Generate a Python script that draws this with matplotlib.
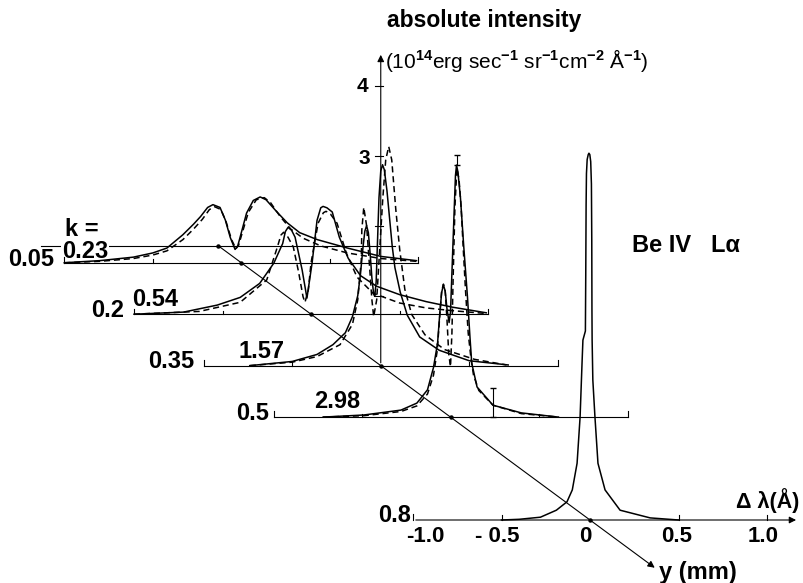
import numpy as np
import matplotlib.pyplot as plt
import matplotlib.transforms as mtransforms

plt.rcParams['font.family'] = ['Liberation Sans', 'DejaVu Sans']
plt.rcParams['mathtext.fontset'] = 'custom'
plt.rcParams['mathtext.rm'] = 'Liberation Sans:bold'
plt.rcParams['mathtext.bf'] = 'Liberation Sans:bold'
plt.rcParams['mathtext.default'] = 'rm'

# ---- data (delta lambda in A, intensity in 1e14 erg/s/sr/cm2/A) ----
y_rows = [0.05, 0.2, 0.35, 0.5, 0.8]          # mm
y_labels = ['0.05', '0.2', '0.35', '0.5', '0.8']
k_labels = ['0.23', '0.54', '1.57', '2.98']

dl_005 = [-1.0, -0.8, -0.61, -0.5, -0.42, -0.33, -0.27, -0.23, -0.19, -0.16, -0.12, -0.09,
          -0.062, -0.035, -0.02, -0.006, 0.03, 0.068, 0.107, 0.14, 0.2, 0.26, 0.33, 0.43,
          0.6, 0.79, 0.99]
I_005 = [0.0, 0.03, 0.08, 0.14, 0.21, 0.40, 0.55, 0.66, 0.79, 0.83, 0.79, 0.61,
         0.36, 0.19, 0.24, 0.37, 0.71, 0.89, 0.94, 0.90, 0.73, 0.57, 0.43, 0.33,
         0.21, 0.09, 0.03]
dl_005_th = [-1.0, -0.8, -0.61, -0.5, -0.42, -0.33, -0.27, -0.22, -0.18, -0.15, -0.115, -0.085,
             -0.055, -0.03, -0.015, 0.0, 0.04, 0.085, 0.13, 0.165, 0.22, 0.28, 0.35, 0.45,
             0.6, 0.79, 0.99]
I_005_th = [0.0, 0.02, 0.06, 0.11, 0.17, 0.33, 0.48, 0.62, 0.76, 0.80, 0.76, 0.58,
            0.33, 0.20, 0.25, 0.38, 0.72, 0.90, 0.93, 0.86, 0.66, 0.48, 0.35, 0.24,
            0.14, 0.06, 0.02]

dl_02 = [-1.0, -0.72, -0.53, -0.40, -0.29, -0.21, -0.16, -0.145, -0.13, -0.11, -0.09, -0.05,
         -0.023, 0.006, 0.034, 0.055, 0.068, 0.09, 0.12, 0.16, 0.21, 0.28, 0.37, 0.5,
         0.65, 0.8, 0.99]
I_02 = [0.0, 0.03, 0.13, 0.24, 0.44, 0.73, 1.01, 1.18, 1.24, 1.20, 1.10, 0.63,
        0.23, 0.73, 1.34, 1.52, 1.54, 1.52, 1.46, 1.10, 0.80, 0.55, 0.40, 0.28,
        0.18, 0.10, 0.02]
dl_02_th = [-1.0, -0.63, -0.4, -0.25, -0.19, -0.17, -0.155, -0.13, -0.1, -0.07, -0.045, -0.034,
            -0.015, 0.0, 0.04, 0.07, 0.085, 0.11, 0.147, 0.2, 0.26, 0.35, 0.5, 0.65,
            0.8, 0.99]
I_02_th = [0.0, 0.04, 0.17, 0.49, 0.96, 1.13, 1.17, 1.10, 0.96, 0.60, 0.25, 0.17,
           0.35, 0.73, 1.30, 1.45, 1.47, 1.43, 1.30, 0.87, 0.53, 0.30, 0.16, 0.09,
           0.05, 0.01]

dl_035 = [-0.74, -0.5, -0.36, -0.27, -0.2, -0.16, -0.13, -0.115, -0.1, -0.09, -0.08, -0.07,
          -0.06, -0.05, -0.04, -0.034, -0.026, -0.018, -0.01, 0.0, 0.01, 0.02, 0.035, 0.05,
          0.065, 0.08, 0.11, 0.15, 0.22, 0.33, 0.5, 0.72]
I_035 = [0.0, 0.06, 0.16, 0.30, 0.47, 0.70, 1.00, 1.30, 1.70, 1.92, 2.00, 1.90,
         1.60, 1.25, 1.02, 0.99, 1.20, 1.80, 2.40, 2.78, 2.87, 2.80, 2.50, 2.10,
         1.70, 1.40, 1.05, 0.72, 0.41, 0.22, 0.07, 0.01]
dl_035_th = [-0.74, -0.5, -0.36, -0.23, -0.16, -0.13, -0.11, -0.107, -0.096, -0.08, -0.062, -0.05,
             -0.04, -0.023, -0.006, 0.011, 0.028, 0.045, 0.062, 0.085, 0.107, 0.136, 0.175, 0.25,
             0.36, 0.53, 0.71]
I_035_th = [0.0, 0.05, 0.13, 0.30, 0.59, 0.94, 1.51, 1.94, 2.26, 2.00, 1.37, 0.94,
            0.70, 0.94, 1.66, 2.37, 2.94, 3.13, 2.94, 2.23, 1.66, 1.09, 0.73, 0.44,
            0.23, 0.09, 0.01]

dl_05 = [-0.72, -0.49, -0.28, -0.19, -0.13, -0.096, -0.073, -0.06, -0.05, -0.04, -0.03, -0.02,
         -0.008, 0.0, 0.01, 0.02, 0.028, 0.034, 0.042, 0.056, 0.075, 0.096, 0.11, 0.12,
         0.15, 0.24, 0.4, 0.61]
I_05 = [0.0, 0.03, 0.10, 0.20, 0.39, 0.71, 1.06, 1.50, 1.78, 1.89, 1.80, 1.55,
        1.35, 1.50, 2.20, 2.90, 3.45, 3.60, 3.50, 3.14, 2.43, 1.71, 1.14, 0.77,
        0.43, 0.17, 0.06, 0.0]
dl_05_th = [-0.72, -0.49, -0.28, -0.19, -0.13, -0.096, -0.075, -0.062, -0.05, -0.04, -0.03, -0.02,
            -0.01, 0.0, 0.008, 0.015, 0.025, 0.036, 0.048, 0.06, 0.07, 0.085, 0.1, 0.115,
            0.13, 0.16, 0.24, 0.4, 0.61]
I_05_th = [0.0, 0.02, 0.08, 0.16, 0.33, 0.60, 0.95, 1.40, 1.80, 1.90, 1.80, 1.40,
           0.90, 0.72, 1.20, 2.00, 3.00, 3.55, 3.40, 3.00, 2.50, 1.80, 1.20, 0.85,
           0.60, 0.38, 0.17, 0.05, 0.0]

dl_08 = [-0.5, -0.4, -0.28, -0.19, -0.13, -0.1, -0.073, -0.056, -0.045, -0.04, -0.026, -0.024,
         -0.022, -0.02, -0.016, -0.01, -0.006, -0.001, 0.004, 0.008, 0.01, 0.011, 0.012, 0.016,
         0.028, 0.045, 0.085, 0.17, 0.34, 0.5]
I_08 = [0.0, 0.01, 0.04, 0.14, 0.26, 0.43, 0.81, 1.47, 2.24, 2.57, 2.70, 3.50,
        4.50, 4.95, 5.15, 5.22, 5.24, 5.22, 5.12, 4.80, 4.00, 3.00, 2.57, 2.00,
        1.47, 0.81, 0.43, 0.14, 0.03, 0.0]

solid = [(dl_005, I_005), (dl_02, I_02), (dl_035, I_035), (dl_05, I_05), (dl_08, I_08)]
dashed = [(dl_005_th, I_005_th), (dl_02_th, I_02_th), (dl_035_th, I_035_th), (dl_05_th, I_05_th), None]

# ---- oblique projection: 1 mm of y shifts a row by this much ----
SHEAR_X = 2.627
SHEAR_Y = -4.90
Y_REF = 0.8


def origin(y):
    return (y - Y_REF) * SHEAR_X, (y - Y_REF) * SHEAR_Y


def px(x, y):
    return x / 804.0, 1 - y / 583.0


fig = plt.figure(figsize=(8.04, 5.83), dpi=100)
ax = fig.add_axes([0, 0, 1, 1])
ax.set_xlim(-590 / 177.0, 214 / 177.0)
ax.set_ylim(-63 / 70.0, 520 / 70.0)
ax.axis('off')

lw_base = 0.8
lw_curve = 1.1

# baselines of the rows (y = 0 has no profile, it sits under the first k label)
for y in [0.0] + y_rows[:-1]:
    tr = mtransforms.Affine2D().translate(*origin(y)) + ax.transData
    ax.plot([-1, 1], [0, 0], color='k', lw=lw_base, transform=tr, zorder=1 if y == 0 else 2)
    if y > 0:
        for x in (-1, 1):
            ax.plot([x, x], [0, 0.08], color='k', lw=lw_base, transform=tr)
        for x in (-0.5, 0.5):
            ax.plot([x, x], [0, 0.05], color='k', lw=lw_base, transform=tr)

# main wavelength axis on the y = 0.8 row
ax.annotate('', xy=(1.18, 0), xytext=(-1.0, 0),
            arrowprops=dict(arrowstyle='-|>', color='k', lw=lw_base, mutation_scale=10))
ax.plot([-1, -1], [0, 0.08], color='k', lw=lw_base)
for x in (-0.5, 0.5, 1.0):
    ax.plot([x, x], [0, 0.07], color='k', lw=lw_base)

# y (mm) diagonal through the row origins
x0, y0 = origin(0.0)
x1, y1 = origin(0.944)
ax.annotate('', xy=(x1, y1), xytext=(x0, y0),
            arrowprops=dict(arrowstyle='-|>', color='k', lw=lw_base, mutation_scale=10))
for y in [0.0] + y_rows:
    ax.plot(*origin(y), 'o', color='k', ms=2.2)

# intensity axis standing on the y = 0.35 row
tr35 = mtransforms.Affine2D().translate(*origin(0.35)) + ax.transData
ox, oy = origin(0.35)
ax.annotate('', xy=(ox, oy + 4.48), xytext=(ox, oy),
            arrowprops=dict(arrowstyle='-|>', color='k', lw=lw_base, mutation_scale=10))
for v in (1, 2, 3, 4):
    ax.plot([-0.03, 0.015], [v, v], color='k', lw=lw_base, transform=tr35)

# line profiles
for y, s, d in zip(y_rows, solid, dashed):
    tr = mtransforms.Affine2D().translate(*origin(y)) + ax.transData
    ax.plot(s[0], s[1], color='k', lw=lw_curve, transform=tr)
    if d is not None:
        ax.plot(d[0], d[1], color='k', lw=lw_curve, ls=(0, (4, 2.5)), transform=tr)

# error bars on the y = 0.5 row
tr5 = mtransforms.Affine2D().translate(*origin(0.5)) + ax.transData
ax.errorbar([0.24], [0.2], yerr=[[0.2], [0.21]], fmt='none', ecolor='k',
            elinewidth=lw_base, capsize=2.5, transform=tr5)
ax.errorbar([0.034], [3.67], yerr=[[0.07], [0.07]], fmt='none', ecolor='k',
            elinewidth=lw_base, capsize=2.5, transform=tr5)

# ---- text ----
big = dict(fontsize=17, fontweight='bold', va='center', ha='left')
fig.text(*px(387, 21), 'absolute intensity', fontsize=16.5, fontweight='bold', va='center')
fig.text(*px(385, 60), r'(10$^{14}$erg sec$^{-1}$ sr$^{-1}$cm$^{-2}$ Å$^{-1}$)',
         fontsize=15, va='center')
fig.text(*px(362, 87), '4', fontsize=15, fontweight='bold', va='center', ha='center')
fig.text(*px(364, 158), '3', fontsize=15, fontweight='bold', va='center', ha='center')
fig.text(*px(632, 245), 'Be IV   L\u03b1', fontsize=17, fontweight='bold', va='center')

fig.text(*px(65, 229), 'k =', **big)
label_pos = [(8, 260), (91, 310), (148, 362), (236, 414), (378, 515)]
k_pos = [(62, 251), (132, 300), (239, 352), (314, 402)]
for s, (x, y) in zip(y_labels, label_pos):
    fig.text(*px(x, y), s, **big)
# first k label breaks the y = 0 line but stays under the profiles
ax.text(*px(*k_pos[0]), k_labels[0], transform=fig.transFigure, zorder=1.5,
        bbox=dict(fc='white', ec='none', pad=0.5), **big)
for s, (x, y) in zip(k_labels[1:], k_pos[1:]):
    fig.text(*px(x, y), s, **big)

tick_vals = ['-1.0', '- 0.5', '0', '0.5', '1.0']
tick_px = [425, 497, 585, 677, 763]
for s, x in zip(tick_vals, tick_px):
    fig.text(*px(x, 537), s, fontsize=16, fontweight='bold', va='center', ha='center')
fig.text(*px(736, 501), '\u0394 \u03bb(Å)', fontsize=15.5, fontweight='bold', va='center')
fig.text(*px(659, 573), 'y (mm)', fontsize=17, fontweight='bold', va='center')

fig.savefig('out.png', dpi=100)
